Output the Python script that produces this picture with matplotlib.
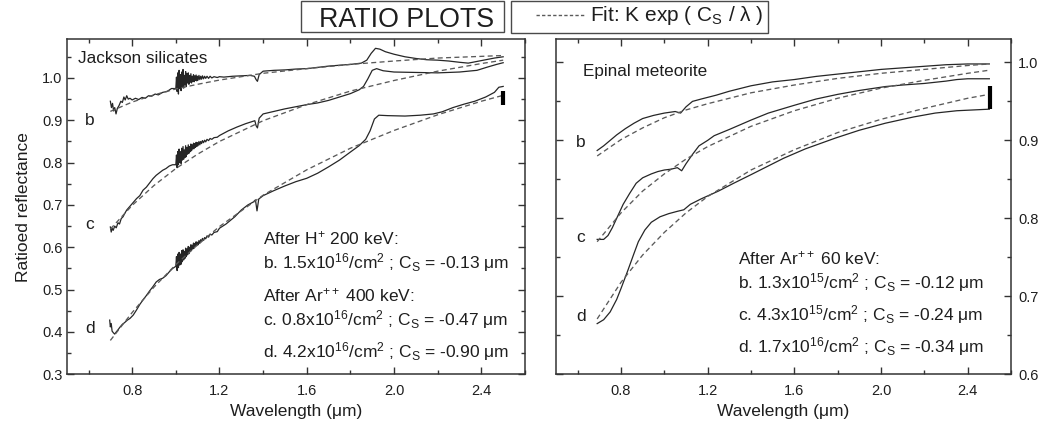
import matplotlib
matplotlib.use('Agg')
import matplotlib.pyplot as plt
from matplotlib.patches import Rectangle
from matplotlib.lines import Line2D
from matplotlib.ticker import MultipleLocator, FormatStrFormatter

plt.rcParams['font.family'] = ['Liberation Sans', 'DejaVu Sans']
plt.rcParams['mathtext.fontset'] = 'custom'
plt.rcParams['mathtext.rm'] = 'Liberation Sans'
plt.rcParams['mathtext.it'] = 'Liberation Sans:italic'
plt.rcParams['mathtext.bf'] = 'Liberation Sans:bold'
plt.rcParams['lines.scale_dashes'] = False

# ---------------- data: Jackson silicates (left panel) ----------------
# wavelengths of the noisy 1.0-1.2 um stretch, shared by curves b, c, d
noise_wl = [1.000, 1.003, 1.006, 1.009, 1.012, 1.015, 1.018, 1.021, 1.024, 1.027, 1.030, 1.033,
            1.036, 1.039, 1.042, 1.045, 1.048, 1.051, 1.054, 1.057, 1.060, 1.063, 1.066, 1.069,
            1.072, 1.075, 1.078, 1.081, 1.084, 1.087, 1.090, 1.093, 1.096, 1.099, 1.102, 1.106,
            1.110, 1.114, 1.118, 1.122, 1.127, 1.132, 1.137, 1.143, 1.150, 1.157, 1.165, 1.175,
            1.190, 1.200]

jk_b_pre_wl = [0.700, 0.705, 0.710, 0.715, 0.720, 0.726, 0.732, 0.740, 0.748, 0.755, 0.762, 0.768,
               0.775, 0.782, 0.790, 0.800, 0.815, 0.830, 0.845, 0.860, 0.875, 0.890, 0.905, 0.920,
               0.940, 0.960, 0.980]
jk_b_pre_val = [0.945, 0.930, 0.940, 0.922, 0.930, 0.915, 0.928, 0.935, 0.945, 0.942, 0.955, 0.948,
                0.958, 0.950, 0.952, 0.948, 0.952, 0.949, 0.954, 0.952, 0.958, 0.957, 0.962, 0.960,
                0.966, 0.968, 0.975]
jk_b_noise = [0.975, 1.002, 0.968, 1.012, 0.962, 1.018, 0.975, 1.008, 0.970, 1.014, 0.980, 1.020,
              0.976, 1.006, 0.984, 1.015, 0.980, 1.010, 0.988, 1.012, 0.985, 1.006, 0.990, 1.010,
              0.988, 1.004, 0.992, 1.008, 0.991, 1.005, 0.994, 1.007, 0.993, 1.004, 0.995, 1.006,
              0.996, 1.004, 0.997, 1.005, 0.998, 1.004, 0.999, 1.004, 0.999, 1.004, 1.000, 1.003,
              1.001, 1.003]
jk_b_post_wl = [1.22, 1.26, 1.30, 1.34, 1.36, 1.368, 1.374, 1.382, 1.40, 1.45, 1.50, 1.55, 1.60,
                1.65, 1.70, 1.75, 1.80, 1.85, 1.875, 1.895, 1.915, 1.935, 1.96, 2.00, 2.05, 2.10,
                2.15, 2.20, 2.25, 2.30, 2.34, 2.38, 2.42, 2.46, 2.50]
jk_b_post_val = [1.002, 1.004, 1.005, 1.006, 1.004, 0.996, 0.992, 1.008, 1.016, 1.018, 1.019, 1.021,
                 1.022, 1.025, 1.028, 1.030, 1.032, 1.035, 1.042, 1.058, 1.070, 1.068, 1.062, 1.056,
                 1.050, 1.046, 1.043, 1.042, 1.040, 1.037, 1.035, 1.039, 1.043, 1.047, 1.050]

jk_c_pre_wl = [0.700, 0.704, 0.708, 0.713, 0.720, 0.727, 0.735, 0.742, 0.750, 0.758, 0.766, 0.775,
               0.785, 0.795, 0.805, 0.820, 0.835, 0.850, 0.865, 0.880, 0.895, 0.910, 0.925, 0.940,
               0.955, 0.970, 0.985]
jk_c_pre_val = [0.648, 0.636, 0.645, 0.640, 0.650, 0.646, 0.658, 0.655, 0.668, 0.672, 0.680, 0.688,
                0.694, 0.700, 0.706, 0.715, 0.722, 0.735, 0.742, 0.752, 0.762, 0.770, 0.776, 0.782,
                0.786, 0.792, 0.795]
jk_c_noise = [0.795, 0.818, 0.788, 0.826, 0.795, 0.832, 0.800, 0.826, 0.798, 0.834, 0.806, 0.838,
              0.808, 0.830, 0.812, 0.840, 0.814, 0.836, 0.820, 0.842, 0.822, 0.838, 0.826, 0.844,
              0.828, 0.842, 0.832, 0.846, 0.833, 0.845, 0.836, 0.848, 0.838, 0.847, 0.840, 0.850,
              0.842, 0.850, 0.845, 0.852, 0.847, 0.853, 0.849, 0.855, 0.852, 0.857, 0.855, 0.859,
              0.860, 0.864]
jk_c_post_wl = [1.24, 1.28, 1.32, 1.35, 1.362, 1.368, 1.374, 1.382, 1.40, 1.45, 1.50, 1.55, 1.60,
                1.65, 1.70, 1.75, 1.80, 1.84, 1.86, 1.88, 1.90, 1.92, 1.95, 2.00, 2.10, 2.20, 2.30,
                2.38, 2.43, 2.47, 2.50]
jk_c_post_val = [0.875, 0.884, 0.892, 0.897, 0.899, 0.887, 0.882, 0.905, 0.915, 0.921, 0.927, 0.932,
                 0.937, 0.941, 0.947, 0.955, 0.963, 0.972, 0.980, 0.998, 1.018, 1.022, 1.017, 1.014,
                 1.013, 1.012, 1.014, 1.018, 1.026, 1.032, 1.036]

jk_d_pre_wl = [0.697, 0.700, 0.704, 0.708, 0.714, 0.720, 0.727, 0.735, 0.745, 0.755, 0.765, 0.778,
               0.790, 0.805, 0.820, 0.835, 0.850, 0.865, 0.880, 0.895, 0.910, 0.925, 0.940, 0.955,
               0.970, 0.985]
jk_d_pre_val = [0.428, 0.412, 0.420, 0.402, 0.398, 0.395, 0.400, 0.405, 0.412, 0.418, 0.422, 0.428,
                0.432, 0.440, 0.452, 0.465, 0.476, 0.486, 0.497, 0.507, 0.518, 0.524, 0.527, 0.533,
                0.542, 0.550]
jk_d_noise = [0.555, 0.578, 0.545, 0.584, 0.552, 0.588, 0.558, 0.584, 0.560, 0.592, 0.566, 0.594,
              0.570, 0.590, 0.574, 0.598, 0.578, 0.596, 0.582, 0.602, 0.585, 0.600, 0.590, 0.606,
              0.592, 0.605, 0.596, 0.610, 0.598, 0.609, 0.602, 0.613, 0.604, 0.612, 0.606, 0.616,
              0.609, 0.618, 0.613, 0.621, 0.616, 0.623, 0.620, 0.627, 0.624, 0.631, 0.629, 0.635,
              0.637, 0.645]
jk_d_post_wl = [1.23, 1.27, 1.30, 1.33, 1.355, 1.365, 1.372, 1.380, 1.40, 1.45, 1.50, 1.55, 1.60,
                1.65, 1.70, 1.75, 1.80, 1.84, 1.87, 1.89, 1.91, 1.93, 1.97, 2.05, 2.12, 2.18, 2.22,
                2.27, 2.32, 2.37, 2.42, 2.46, 2.48, 2.50]
jk_d_post_val = [0.655, 0.672, 0.688, 0.700, 0.707, 0.712, 0.686, 0.714, 0.722, 0.734, 0.745, 0.755,
                 0.763, 0.775, 0.790, 0.806, 0.825, 0.840, 0.855, 0.875, 0.903, 0.912, 0.911, 0.910,
                 0.912, 0.915, 0.920, 0.930, 0.938, 0.945, 0.955, 0.966, 0.978, 0.980]

jk_fit_wl = [0.70, 0.80, 0.90, 1.00, 1.10, 1.20, 1.40, 1.60, 1.80, 2.00, 2.20, 2.40, 2.50]
jk_fit_b = [0.921, 0.943, 0.960, 0.974, 0.985, 0.995, 1.011, 1.022, 1.032, 1.040, 1.047, 1.051, 1.053]
jk_fit_c = [0.643, 0.699, 0.746, 0.786, 0.820, 0.850, 0.899, 0.937, 0.969, 0.994, 1.016, 1.034, 1.042]
jk_fit_d = [0.380, 0.446, 0.506, 0.559, 0.606, 0.649, 0.723, 0.783, 0.834, 0.876, 0.913, 0.945, 0.959]

jk_bar_wl = [2.50, 2.50]
jk_bar_val = [0.935, 0.970]

# ---------------- data: Epinal meteorite (right panel) ----------------
ep_b_wl = [0.69, 0.72, 0.75, 0.78, 0.82, 0.86, 0.90, 0.95, 1.00, 1.05, 1.075, 1.10, 1.13, 1.17,
           1.24, 1.30, 1.40, 1.50, 1.60, 1.70, 1.80, 1.90, 2.00, 2.10, 2.20, 2.30, 2.40, 2.50]
ep_b_val = [0.887, 0.893, 0.900, 0.907, 0.915, 0.922, 0.928, 0.932, 0.935, 0.937, 0.935, 0.943,
            0.950, 0.953, 0.958, 0.963, 0.970, 0.975, 0.978, 0.982, 0.985, 0.988, 0.991, 0.993,
            0.995, 0.997, 0.998, 0.998]

ep_c_wl = [0.69, 0.72, 0.74, 0.76, 0.78, 0.81, 0.84, 0.87, 0.90, 0.94, 0.97, 1.00, 1.03, 1.06,
           1.08, 1.10, 1.13, 1.16, 1.20, 1.23, 1.30, 1.40, 1.48, 1.60, 1.70, 1.80, 1.90, 2.02,
           2.10, 2.20, 2.30, 2.35, 2.40, 2.50]
ep_c_val = [0.773, 0.773, 0.778, 0.788, 0.800, 0.818, 0.832, 0.845, 0.852, 0.857, 0.860, 0.862,
            0.863, 0.865, 0.861, 0.870, 0.882, 0.893, 0.900, 0.906, 0.914, 0.926, 0.935, 0.945,
            0.953, 0.959, 0.964, 0.969, 0.971, 0.973, 0.976, 0.978, 0.979, 0.979]

ep_d_wl = [0.69, 0.72, 0.75, 0.78, 0.80, 0.83, 0.86, 0.88, 0.91, 0.94, 0.98, 1.02, 1.06, 1.09,
           1.12, 1.17, 1.25, 1.32, 1.40, 1.55, 1.65, 1.79, 1.90, 2.02, 2.15, 2.25, 2.35, 2.50]
ep_d_val = [0.665, 0.670, 0.680, 0.696, 0.710, 0.732, 0.755, 0.770, 0.785, 0.795, 0.802, 0.806,
            0.809, 0.811, 0.818, 0.825, 0.835, 0.845, 0.856, 0.877, 0.889, 0.903, 0.913, 0.922,
            0.930, 0.935, 0.938, 0.940]

ep_fit_wl = [0.69, 0.80, 0.90, 1.00, 1.10, 1.20, 1.40, 1.60, 1.80, 2.00, 2.20, 2.40, 2.50]
ep_fit_b = [0.880, 0.901, 0.916, 0.929, 0.939, 0.947, 0.961, 0.971, 0.9795, 0.986, 0.991, 0.996, 0.998]
ep_fit_c = [0.770, 0.807, 0.835, 0.857, 0.876, 0.892, 0.918, 0.938, 0.954, 0.967, 0.977, 0.986, 0.990]
ep_fit_d = [0.671, 0.718, 0.753, 0.782, 0.807, 0.828, 0.862, 0.888, 0.910, 0.927, 0.941, 0.954, 0.959]

ep_bar_wl = [2.505, 2.505]
ep_bar_val = [0.940, 0.970]

# ---------------- text ----------------
jk_notes = [r"After H$^{+}$ 200 keV:",
            r"b. 1.5x10$^{16}$/cm$^{2}$ ; C$_{\mathrm{S}}$ = -0.13 μm",
            r"After Ar$^{++}$ 400 keV:",
            r"c. 0.8x10$^{16}$/cm$^{2}$ ; C$_{\mathrm{S}}$ = -0.47 μm",
            r"d. 4.2x10$^{16}$/cm$^{2}$ ; C$_{\mathrm{S}}$ = -0.90 μm"]
ep_notes = [r"After Ar$^{++}$ 60 keV:",
            r"b. 1.3x10$^{15}$/cm$^{2}$ ; C$_{\mathrm{S}}$ = -0.12 μm",
            r"c. 4.3x10$^{15}$/cm$^{2}$ ; C$_{\mathrm{S}}$ = -0.24 μm",
            r"d. 1.7x10$^{16}$/cm$^{2}$ ; C$_{\mathrm{S}}$ = -0.34 μm"]

W, H = 1041, 428
fig = plt.figure(figsize=(W / 100, H / 100), dpi=100)

SOLID = '#262626'
DASH = '#5a5a5a'
TXT = '#1e1e1e'
SPINE = '#333333'


def px(x, y):
    return x / W, 1 - y / H


ax1 = fig.add_axes([66.7 / W, 1 - 374.3 / H, (525 - 66.7) / W, (374.3 - 39) / H])
ax2 = fig.add_axes([556 / W, 1 - 374.3 / H, (1011 - 556) / W, (374.3 - 39) / H])

for ax in (ax1, ax2):
    ax.set_xlim(0.5, 2.6)
    ax.xaxis.set_major_locator(MultipleLocator(0.4))
    ax.xaxis.set_minor_locator(MultipleLocator(0.2))
    ax.xaxis.set_major_formatter(FormatStrFormatter('%.1f'))
    ax.yaxis.set_major_locator(MultipleLocator(0.1))
    ax.yaxis.set_minor_locator(MultipleLocator(0.05))
    ax.yaxis.set_major_formatter(FormatStrFormatter('%.1f'))
    ax.tick_params(which='both', direction='in', top=True, bottom=True, left=True, right=True,
                   colors=SPINE, labelcolor=TXT, labelsize=10.5, width=1.0)
    ax.tick_params(which='major', length=5)
    ax.tick_params(which='minor', length=3)
    ax.tick_params(axis='x', pad=7)
    for s in ax.spines.values():
        s.set_color(SPINE)
        s.set_linewidth(1.1)
    ax.set_xlabel('Wavelength (μm)', fontsize=12.5, color=TXT, labelpad=4)

ax1.set_ylim(0.3, 1.092)
ax2.set_ylim(0.6, 1.03)
ax1.tick_params(axis='y', pad=3)
ax2.tick_params(axis='y', labelleft=False, labelright=True, pad=5)
ax1.set_ylabel('Ratioed reflectance', fontsize=12.5, color=TXT, labelpad=8)

lw_s = 0.9
lw_d = 0.95
dash = (3.6, 2.4)

# left panel
jk_curves = [(jk_b_pre_wl + noise_wl + jk_b_post_wl, jk_b_pre_val + jk_b_noise + jk_b_post_val),
             (jk_c_pre_wl + noise_wl + jk_c_post_wl, jk_c_pre_val + jk_c_noise + jk_c_post_val),
             (jk_d_pre_wl + noise_wl + jk_d_post_wl, jk_d_pre_val + jk_d_noise + jk_d_post_val)]
for wl, val in jk_curves:
    ax1.plot(wl, val, color=SOLID, lw=lw_s)
for fit in (jk_fit_b, jk_fit_c, jk_fit_d):
    ax1.plot(jk_fit_wl, fit, color=DASH, lw=lw_d, dashes=dash)
ax1.plot(jk_bar_wl, jk_bar_val, color='black', lw=3, solid_capstyle='butt')

# right panel
for wl, val in ((ep_b_wl, ep_b_val), (ep_c_wl, ep_c_val), (ep_d_wl, ep_d_val)):
    ax2.plot(wl, val, color=SOLID, lw=lw_s)
for fit in (ep_fit_b, ep_fit_c, ep_fit_d):
    ax2.plot(ep_fit_wl, fit, color=DASH, lw=lw_d, dashes=dash)
ax2.plot(ep_bar_wl, ep_bar_val, color='black', lw=3, solid_capstyle='butt')

# labels
ax1.text(0.553, 1.046, 'Jackson silicates', fontsize=12.3, color=TXT, va='center', ha='left')
ax2.text(0.625, 0.988, 'Epinal meteorite', fontsize=12.3, color=TXT, va='center', ha='left')
for lab, y in zip(['b', 'c', 'd'], [0.900, 0.655, 0.409]):
    ax1.text(0.605, y, lab, fontsize=12.5, color=TXT, va='center', ha='center')
for lab, y in zip(['b', 'c', 'd'], [0.897, 0.775, 0.674]):
    ax2.text(0.615, y, lab, fontsize=12.5, color=TXT, va='center', ha='center')

for txt, yp in zip(jk_notes, [238, 263, 295, 320, 352]):
    fig.text(*px(263, yp), txt, fontsize=12.5, color=TXT, va='center', ha='left')
for txt, yp in zip(ep_notes, [258, 283, 315, 347]):
    fig.text(*px(738, yp), txt, fontsize=12.5, color=TXT, va='center', ha='left')

# title boxes
box_col = '#4a4a4a'
fig.patches.append(Rectangle(px(300.7, 32.3), (504 - 300.7) / W, 31.3 / H,
                             transform=fig.transFigure, fill=False, ec=box_col, lw=1.0))
fig.patches.append(Rectangle(px(510.7, 33.3), (768.3 - 510.7) / W, 32.3 / H,
                             transform=fig.transFigure, fill=False, ec=box_col, lw=1.0))
fig.text(*px(406.5, 26.7), 'RATIO PLOTS', fontsize=19.3, color=TXT, ha='center', va='baseline')
x0, y0 = px(536, 15)
x1, _ = px(585, 15)
fig.lines.append(Line2D([x0, x1], [y0, y0], transform=fig.transFigure, color=DASH, lw=1.0,
                        dashes=(2.4, 1.6)))
fig.text(*px(590, 21), r'Fit: K exp ( C$_{\mathrm{S}}$ / λ )', fontsize=15, color=TXT,
         ha='left', va='baseline')

fig.savefig('out.png', dpi=100)
